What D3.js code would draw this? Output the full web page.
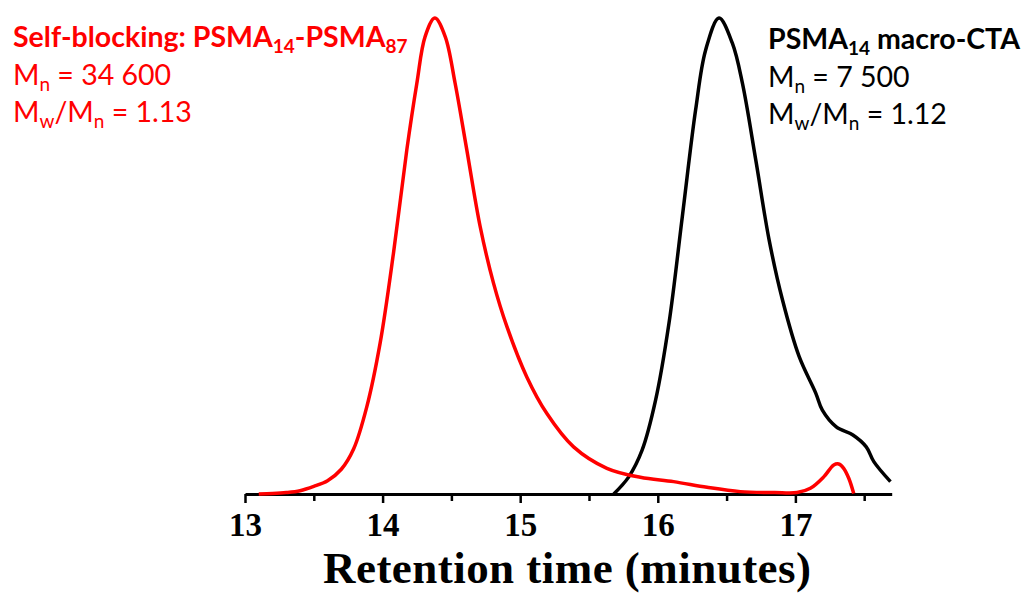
<!DOCTYPE html>
<html>
<head>
<meta charset="utf-8">
<script src="https://cdn.jsdelivr.net/npm/d3@7"></script>
<style>
  body { margin: 0; background: #fff; }
  svg { display: block; }
</style>
</head>
<body>
<div id="chart"></div>
<script>
// GPC traces (retention time in minutes, normalised RI signal)
var redTime   = [13.10, 13.20, 13.30, 13.40, 13.50, 13.60, 13.70, 13.79, 13.885, 13.982, 14.079, 14.176, 14.249, 14.309, 14.38,
                 14.455, 14.527, 14.612, 14.709, 14.806, 14.903, 15.048, 15.194, 15.388, 15.630, 15.873, 16.115, 16.358, 16.600,
                 16.85, 17.012, 17.109, 17.206, 17.279, 17.315, 17.351, 17.388, 17.424]
var redSignal = [0, 0.001, 0.003, 0.007, 0.016, 0.028, 0.052, 0.095, 0.183, 0.317, 0.506, 0.723, 0.863, 0.961, 1.0,
                 0.961, 0.863, 0.723, 0.562, 0.443, 0.352, 0.246, 0.169, 0.099, 0.054, 0.035, 0.026, 0.014, 0.005,
                 0.003, 0.003, 0.012, 0.036, 0.061, 0.063, 0.054, 0.033, 0.001]

var blackTime   = [15.68, 15.789, 15.886, 15.984, 16.081, 16.178, 16.275, 16.348, 16.445, 16.542, 16.615, 16.712, 16.809,
                   16.906, 17.027, 17.148, 17.196, 17.297, 17.418, 17.515, 17.57, 17.691]
var blackSignal = [0, 0.036, 0.092, 0.197, 0.358, 0.582, 0.807, 0.933, 1.0, 0.947, 0.863, 0.702, 0.534,
                   0.408, 0.289, 0.212, 0.176, 0.141, 0.124, 0.099, 0.068, 0.026]

var majorTicks = [13, 14, 15, 16, 17]
var minorTicks = [13.5, 14.5, 15.5, 16.5, 17.5]

var width = 1028,
    height = 595

var svg = d3.select("#chart")
  .append("svg")
    .attr("width", width)
    .attr("height", height)

var x = d3.scaleLinear().domain([13, 17.7]).range([245, 891.7])
var y = d3.scaleLinear().domain([0, 1]).range([494, 18])

var line = d3.line()
  .x(function(d) { return x(d[0]) })
  .y(function(d) { return y(d[1]) })
  .curve(d3.curveCatmullRom.alpha(0.5))

// minor ticks first, then the main axis on top
svg.append("g")
    .attr("transform", "translate(0,494)")
    .call(d3.axisBottom(x).tickValues(minorTicks).tickSize(7).tickSizeOuter(0).tickFormat(""))
    .call(function(g) { g.select(".domain").remove() })
    .selectAll("line").attr("stroke-width", 2.5)

var axis = svg.append("g")
    .attr("transform", "translate(0,494)")
    .call(d3.axisBottom(x).tickValues(majorTicks).tickSize(9).tickSizeOuter(0).tickPadding(10).tickFormat(d3.format("d")))

axis.select(".domain").attr("stroke-width", 3)
axis.selectAll(".tick line").attr("stroke-width", 2.5)
axis.selectAll(".tick text")
    .attr("font-family", "'Liberation Serif', 'Times New Roman', serif")
    .attr("font-weight", "bold")
    .attr("font-size", 33)
    .attr("fill", "#000")

svg.append("path")
    .datum(d3.zip(blackTime, blackSignal))
    .attr("fill", "none")
    .attr("stroke", "#000")
    .attr("stroke-width", 3.5)
    .attr("d", line)

svg.append("path")
    .datum(d3.zip(redTime, redSignal))
    .attr("fill", "none")
    .attr("stroke", "#ff0000")
    .attr("stroke-width", 3.5)
    .attr("d", line)

svg.append("text")
    .attr("x", 567)
    .attr("y", 583)
    .attr("text-anchor", "middle")
    .attr("font-family", "'Liberation Serif', 'Times New Roman', serif")
    .attr("font-weight", "bold")
    .attr("font-size", 45)
    .attr("textLength", 488)
    .attr("lengthAdjust", "spacing")
    .text("Retention time (minutes)")

// annotation blocks: each line is an array of [text, isSubscript]
function note(x0, y0, color, lines) {
  lines.forEach(function(parts, i) {
    var t = svg.append("text")
        .attr("x", x0)
        .attr("y", y0 + i * 37.5)
        .attr("fill", color)
        .attr("font-family", "Lato, 'Open Sans', sans-serif")
        .attr("font-size", 28.5)
        .attr("font-weight", i == 0 ? "bold" : "normal")
    var sub = false
    parts.forEach(function(p) {
      var s = t.append("tspan").text(p[0])
      if (p[1]) { s.attr("font-size", 19).attr("dy", 6); sub = true }
      else if (sub) { s.attr("dy", -6); sub = false }
    })
  })
}

note(13, 47, "#ff0000", [
  [["Self-blocking: PSMA"], ["14", 1], ["-PSMA"], ["87", 1]],
  [["M"], ["n", 1], [" = 34 600"]],
  [["M"], ["w", 1], ["/M"], ["n", 1], [" = 1.13"]]
])

note(768, 49, "#000", [
  [["PSMA"], ["14", 1], [" macro-CTA"]],
  [["M"], ["n", 1], [" = 7 500"]],
  [["M"], ["w", 1], ["/M"], ["n", 1], [" = 1.12"]]
])
</script>
</body>
</html>
